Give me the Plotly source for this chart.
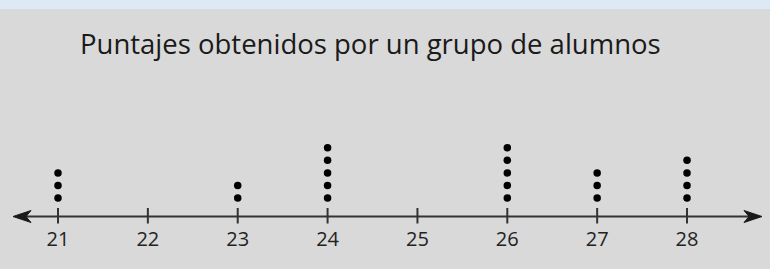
import plotly.graph_objects as go

# ---- data ----
scores = [21, 22, 23, 24, 25, 26, 27, 28]
counts = [3, 0, 2, 5, 0, 5, 3, 4]
tick_labels = ["21", "22", "23", "24", "25", "26", "27", "28"]
title_text = "Puntajes obtenidos por un grupo de alumnos"

# ---- styling constants ----
W, H = 770, 269
PX_PER_UNIT = 89.86
X0 = 21 - 58 / PX_PER_UNIT          # data value at left edge
X1 = X0 + W / PX_PER_UNIT           # data value at right edge
AXIS_PX = 216.5                      # axis line pixel row from top
Y_RANGE = [-(H - AXIS_PX), AXIS_PX]  # 1 y-unit = 1 pixel, axis at 0
DOT_START = 18.5
DOT_STEP = 12.55
INK = "#1a1a1a"

dot_x, dot_y = [], []
for s, c in zip(scores, counts):
    for k in range(c):
        dot_x.append(s)
        dot_y.append(DOT_START + DOT_STEP * k)

fig = go.Figure()
fig.add_trace(go.Scatter(
    x=dot_x, y=dot_y, mode="markers",
    marker=dict(color="black", size=7.5, line=dict(width=0)),
    hoverinfo="skip", showlegend=False,
))
fig.add_trace(go.Scatter(
    x=scores, y=[-24.5] * len(scores), mode="text",
    text=tick_labels,
    textfont=dict(family="Open Sans, sans-serif", size=20, color="#222"),
    hoverinfo="skip", showlegend=False,
))

shapes = []
# top band
shapes.append(dict(type="rect", xref="paper", yref="paper",
                   x0=0, x1=1, y0=1 - 9 / H, y1=1,
                   fillcolor="#DDEAF6", line=dict(width=0), layer="below"))
# axis line
left_tip = X0 + 13 / PX_PER_UNIT
right_tip = X0 + 762 / PX_PER_UNIT
shapes.append(dict(type="line", xref="x", yref="y",
                   x0=left_tip + 0.05, x1=right_tip - 0.05, y0=0, y1=0,
                   line=dict(color="#333", width=2)))
# arrowheads
alen = 18 / PX_PER_UNIT
notch = 5 / PX_PER_UNIT
shapes.append(dict(type="path", xref="x", yref="y",
                   path=f"M {left_tip} 0 L {left_tip + alen} 6 L {left_tip + alen - notch} 0 L {left_tip + alen} -6 Z",
                   fillcolor=INK, line=dict(color=INK, width=1)))
shapes.append(dict(type="path", xref="x", yref="y",
                   path=f"M {right_tip} 0 L {right_tip - alen} 6 L {right_tip - alen + notch} 0 L {right_tip - alen} -6 Z",
                   fillcolor=INK, line=dict(color=INK, width=1)))
# tick marks
for s in scores:
    shapes.append(dict(type="line", xref="x", yref="y",
                       x0=s, x1=s, y0=-7, y1=8.5,
                       line=dict(color="#333", width=2)))

fig.update_layout(
    width=W, height=H,
    margin=dict(l=0, r=0, t=0, b=0),
    paper_bgcolor="#D9D9D9", plot_bgcolor="rgba(0,0,0,0)",
    xaxis=dict(range=[X0, X1], visible=False, fixedrange=True),
    yaxis=dict(range=Y_RANGE, visible=False, fixedrange=True),
    shapes=shapes,
    annotations=[dict(
        text=title_text, xref="paper", yref="paper",
        x=370.5 / W, y=1 - 44 / H, xanchor="center", yanchor="middle",
        showarrow=False,
        font=dict(family="Open Sans, sans-serif", size=27.5, color="#1a1a1a"),
    )],
)

fig.write_html(
    "out.html",
    config={"displayModeBar": False},
    post_script="document.body.style.margin='0';document.body.style.background='#D9D9D9';",
)
